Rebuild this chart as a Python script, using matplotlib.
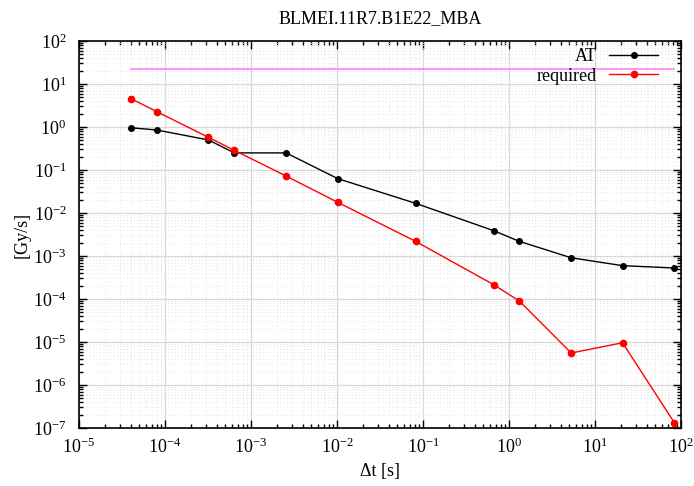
import matplotlib
matplotlib.use("Agg")
import matplotlib.pyplot as plt
from matplotlib.ticker import LogLocator, NullFormatter, FixedLocator

plt.rcParams['font.family'] = ['Liberation Serif', 'DejaVu Serif']
plt.rcParams['mathtext.fontset'] = 'custom'
plt.rcParams['mathtext.rm'] = 'Liberation Serif'
plt.rcParams['mathtext.it'] = 'Liberation Serif:italic'
plt.rcParams['mathtext.default'] = 'regular'

title = "BLMEI.11R7.B1E22_MBA"
dt = [4.04e-5, 8.05e-5, 3.2e-4, 6.4e-4, 2.56e-3, 1.02e-2, 8.2e-2, 0.664, 1.32, 5.28, 20.9, 83.7]
at_values = [0.96, 0.85, 0.50, 0.25, 0.25, 0.063, 0.0168, 0.00388, 0.00219, 9.1e-4, 5.96e-4, 5.26e-4]
required_values = [4.55, 2.27, 0.575, 0.287, 0.0724, 0.0177, 0.00219, 2.15e-4, 8.97e-5, 5.55e-6, 9.6e-6, 1.33e-7]
limit_value = 22.7
x_exponents = list(range(-5, 3))
y_exponents = list(range(-7, 3))

fig = plt.figure(figsize=(6.94, 4.86), dpi=100)
ax = fig.add_axes([79/694, 1-428/486, (681-79)/694, (428-41)/486])

ax.plot([dt[0], dt[-1]], [limit_value, limit_value], color='#ff80ff', lw=1.2, zorder=2)
ax.plot(dt, at_values, color='black', lw=1.0, marker='o', ms=4, label='AT', zorder=3)
ax.plot(dt, required_values, color='red', lw=1.0, marker='o', ms=4.5, label='required', zorder=4)

ax.set_xscale('log')
ax.set_yscale('log')
ax.set_xlim(1e-5, 1e2)
ax.set_ylim(1e-7, 1e2)

ax.xaxis.set_major_locator(FixedLocator([10.0**k for k in x_exponents]))
ax.yaxis.set_major_locator(FixedLocator([10.0**k for k in y_exponents]))
ax.set_xticklabels([f'$10^{{{k}}}$' for k in x_exponents])
ax.set_yticklabels([f'$10^{{{k}}}$' for k in y_exponents])
ax.xaxis.set_minor_locator(LogLocator(base=10, subs=range(2, 10), numticks=20))
ax.yaxis.set_minor_locator(LogLocator(base=10, subs=range(2, 10), numticks=20))
ax.xaxis.set_minor_formatter(NullFormatter())
ax.yaxis.set_minor_formatter(NullFormatter())

ax.grid(True, which='major', color='#d8d8d8', lw=0.9, ls='-')
ax.grid(True, which='minor', color='#e4e4e4', lw=0.7, ls=(0, (1, 2.5)))
ax.set_axisbelow(True)

ax.tick_params(which='both', direction='in', top=True, right=True, labelsize=13, color='black')
ax.tick_params(which='major', length=6, width=1)
ax.tick_params(which='minor', length=3, width=1)
ax.tick_params(axis='x', pad=7)
ax.tick_params(axis='y', pad=9)
for s in ax.spines.values():
    s.set_linewidth(1.2)

ax.set_xlabel('Δt [s]', fontsize=13, labelpad=4)
ax.set_ylabel('[Gy/s]', fontsize=13, labelpad=2)
ax.set_title(title, fontsize=13, pad=13)

leg = ax.legend(loc='upper right', bbox_to_anchor=((658-79)/602, (428-48)/387),
                frameon=False, markerfirst=False, fontsize=13,
                handlelength=2.7, borderaxespad=0, borderpad=0,
                labelspacing=0.15, handletextpad=0.7)

fig.savefig('out.png', dpi=100)
